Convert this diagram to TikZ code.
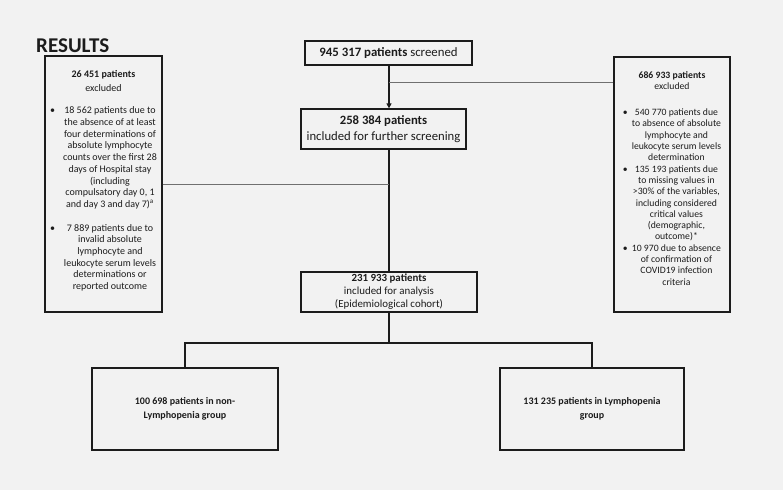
\documentclass[tikz,border=0pt]{standalone}
\usepackage{fontspec}
\setmainfont{Carlito}
\usepackage{tikz}
\usetikzlibrary{arrows.meta, positioning}

\definecolor{paper}{HTML}{F2F2F2}
\definecolor{ink}{HTML}{1C1C1C}
\definecolor{thin}{HTML}{707070}

\newcommand{\bul}{\textbullet}
\newcommand{\gap}[1]{\\ \noalign{\vskip #1}}

\begin{document}
\begin{tikzpicture}[
    x=1pt, y=-1pt,
    box/.style={draw=ink, line width=1.3pt, text=ink, align=center, inner sep=2pt},
    excl/.style={box, minimum width=117pt, minimum height=256pt,
        font=\fontsize{10}{11.7}\selectfont},
    flow/.style={draw=ink, line width=1.8pt},
    side/.style={draw=thin, line width=0.9pt}
]
\fill[paper] (0,0) rectangle (783,490);

\node[anchor=base west, text=ink, font=\fontsize{21}{24}\bfseries\selectfont,
    inner sep=0pt] (title) at (36,52) {RESULTS};

% main column
\node[box, minimum width=167pt, minimum height=24pt,
    font=\fontsize{12.8}{15}\selectfont] (screen) at (388.5,53)
    {\textbf{945 317 patients} screened};
\node[box, minimum width=165pt, minimum height=40pt,
    font=\fontsize{12.7}{16}\selectfont] (further) at (383.5,129)
    {\textbf{258 384 patients}\\ included for further screening};
\node[box, minimum width=176pt, minimum height=40pt,
    font=\fontsize{10.9}{13}\selectfont] (analysis) at (389,292)
    {\textbf{231 933 patients}\\ included for analysis\\ (Epidemiological cohort)};

% excluded
\node[excl] (lexcl) at (103.5,184) {%
    \textbf{26 451 patients}\\[2pt] excluded\\[13pt]
    \begin{tabular}{@{}c@{\hspace{8pt}}c@{}}
    \bul & \begin{tabular}[t]{@{}c@{}}
        18 562 patients due to\\ the absence of at least\\ four determinations of\\
        absolute lymphocyte\\ counts over the first 28\\ days of Hospital stay\\
        (including\\ compulsatory day 0, 1\\ and day 3 and day 7)\textsuperscript{a}
        \end{tabular}\gap{12pt}
    \bul & \begin{tabular}[t]{@{}c@{}}
        7 889 patients due to\\ invalid absolute\\ lymphocyte and\\
        leukocyte serum levels\\ determinations or\\ reported outcome
        \end{tabular}\gap{4pt}
    \end{tabular}};
\node[excl, minimum width=116pt, minimum height=255pt,
    font=\fontsize{9.7}{11.3}\selectfont] (rexcl) at (672,184.5) {%
    \textbf{686 933 patients}\\ excluded\\[17pt]
    \begin{tabular}{@{}c@{\hspace{4pt}}c@{}}
    \bul & \begin{tabular}[t]{@{}c@{}}
        540 770 patients due\\ to absence of absolute\\ lymphocyte and\\
        leukocyte serum levels\\ determination
        \end{tabular}\\
    \bul & \begin{tabular}[t]{@{}c@{}}
        135 193 patients due\\ to missing values in\\ >30\% of the variables,\\
        including considered\\ critical values\\ (demographic,\\ outcome)*
        \end{tabular}\\
    \bul & \begin{tabular}[t]{@{}c@{}}
        10 970 due to absence\\ of confirmation of\\ COVID19 infection\\ criteria
        \end{tabular}\gap{9pt}
    \end{tabular}};

% groups
\node[box, minimum width=186pt, minimum height=82pt,
    font=\fontsize{10}{14}\bfseries\selectfont] (nonlym) at (185,409)
    {100 698 patients in non-\\ Lymphopenia group};
\node[box, minimum width=184pt, minimum height=82pt,
    font=\fontsize{10}{14}\bfseries\selectfont] (lym) at (592,409)
    {131 235 patients in Lymphopenia\\ group};

% connectors
\coordinate (jr) at (389,82);
\coordinate (jl) at (389,184);
\coordinate (split) at (389,343);
\draw[flow, -{Triangle[length=5pt, width=5pt]}] (screen.south -| jr) -- (further.north -| jr);
\draw[side] (jr) -- (jr -| rexcl.west);
\draw[flow] (further.south -| jr) -- (analysis.north);
\draw[side] (lexcl.east |- jl) -- (jl);
\draw[flow, line width=1.3pt] (analysis.south) -- (split);
\draw[box] (nonlym.north) |- (split) -| (lym.north);
\end{tikzpicture}
\end{document}
